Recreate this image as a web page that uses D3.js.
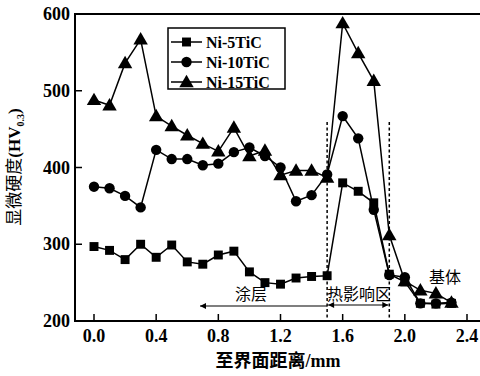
<!DOCTYPE html>
<html><head><meta charset="utf-8">
<script src="https://cdn.jsdelivr.net/npm/d3@7"></script>
<style>body{margin:0;background:#fff}svg{display:block}</style>
</head><body><svg id="c" width="480" height="376"></svg>
<script>
const xValues = [0.0,0.1,0.2,0.3,0.4,0.5,0.6,0.7,0.8,0.9,1.0,1.1,1.2,1.3,1.4,1.5,1.6,1.7,1.8,1.9,2.0,2.1,2.2,2.3];
const ni5 = [297,292,280,300,283,299,277,274,286,291,264,250,248,256,258,259,380,369,354,261,251,223,222,223];
const ni10 = [375,373,363,348,423,411,411,403,405,420,426,415,400,356,364,391,467,438,345,260,257,223,223,224];
const ni15 = [488,481,536,567,467,454,442,431,421,452,415,422,390,396,396,387,588,549,513,312,252,240,236,224];
const seriesNames = ["Ni-5TiC","Ni-10TiC","Ni-15TiC"];
const xTicks = [0.0,0.4,0.8,1.2,1.6,2.0,2.4];
const yTicks = [200,300,400,500,600];
const zoneBounds = [1.5,1.9];

const svg = d3.select("#c");
const x = d3.scaleLinear().domain([0,2.4]).range([94,467]);
const y = d3.scaleLinear().domain([200,600]).range([321,14]);
const serif = "'Liberation Serif','Times New Roman',serif";
const cjk = "'Liberation Serif','Noto Sans CJK SC',serif";
const L = 75, R = 482, T = 14, B = 321;

// frame
svg.append("path").attr("d",`M${R},${T}H${L}V${B}H${R}`).attr("fill","none").attr("stroke","#000").attr("stroke-width",2);

// ticks
const xa = svg.append("g");
xTicks.forEach(t=>{
  xa.append("line").attr("x1",x(t)).attr("x2",x(t)).attr("y1",B).attr("y2",B-7).attr("stroke","#000").attr("stroke-width",1.5);
  xa.append("text").attr("x",x(t)).attr("y",342).attr("text-anchor","middle")
    .attr("font-family",serif).attr("font-weight","bold").attr("font-size",18).text(t.toFixed(1));
});
yTicks.forEach(t=>{
  xa.append("line").attr("x1",L).attr("x2",L+7).attr("y1",y(t)).attr("y2",y(t)).attr("stroke","#000").attr("stroke-width",1.5);
  xa.append("text").attr("x",70).attr("y",y(t)+6).attr("text-anchor","end")
    .attr("font-family",serif).attr("font-weight","bold").attr("font-size",18).text(t);
});

// titles
svg.append("text").attr("x",278).attr("y",367).attr("text-anchor","middle")
  .attr("font-family",cjk).attr("font-weight","bold").attr("font-size",18).text("至界面距离/mm");
const yt = svg.append("text").attr("transform","translate(20,167) rotate(-90)").attr("text-anchor","middle")
  .attr("font-family",cjk).attr("font-size",17);
yt.append("tspan").text("显微硬度");
yt.append("tspan").attr("font-weight","bold").text("(HV");
yt.append("tspan").attr("font-weight","bold").attr("font-size",10).attr("dy",4).text("0.3");
yt.append("tspan").attr("font-weight","bold").attr("dy",-4).text(")");

// dashed zone lines
zoneBounds.forEach(b=>{
  svg.append("line").attr("x1",x(b)).attr("x2",x(b)).attr("y1",122).attr("y2",B)
    .attr("stroke","#000").attr("stroke-width",1.5).attr("stroke-dasharray","3,2.5");
});

// arrows
const defs = svg.append("defs");
defs.append("marker").attr("id","ah").attr("viewBox","0 0 10 10").attr("refX",10).attr("refY",5)
  .attr("markerWidth",10).attr("markerHeight",6).attr("markerUnits","userSpaceOnUse").attr("orient","auto-start-reverse")
  .append("path").attr("d","M0,0L10,5L0,10Z").attr("fill","#000");
svg.append("line").attr("x1",x(zoneBounds[0])).attr("x2",200).attr("y1",306).attr("y2",306)
  .attr("stroke","#000").attr("stroke-width",1.2).attr("marker-end","url(#ah)");
svg.append("line").attr("x1",x(zoneBounds[0])+1).attr("x2",x(zoneBounds[1])-1).attr("y1",305).attr("y2",305)
  .attr("stroke","#000").attr("stroke-width",1.2).attr("marker-end","url(#ah)").attr("marker-start","url(#ah)");
svg.append("text").attr("x",251).attr("y",300).attr("text-anchor","middle").attr("font-family",cjk).attr("font-size",16).text("涂层");
svg.append("text").attr("x",359).attr("y",300).attr("text-anchor","middle").attr("font-family",cjk).attr("font-size",16).text("热影响区");
svg.append("text").attr("x",445).attr("y",283).attr("text-anchor","middle").attr("font-family",cjk).attr("font-size",16).text("基体");

// series
const line = d3.line().x((d,i)=>x(xValues[i])).y(d=>y(d));
const sym = [d3.symbolSquare, d3.symbolCircle, d3.symbolTriangle];
const symSize = [80, 85, 90];
[ni5,ni10,ni15].forEach((s,k)=>{
  svg.append("path").attr("d",line(s)).attr("fill","none").attr("stroke","#000").attr("stroke-width",1.5);
  svg.append("g").selectAll("path").data(s).join("path")
    .attr("transform",(d,i)=>`translate(${x(xValues[i])},${y(d)+(k==2?1:0)})`)
    .attr("d",d3.symbol().type(sym[k]).size(symSize[k])).attr("fill","#000");
});

// legend
svg.append("rect").attr("x",168).attr("y",28).attr("width",117).attr("height",61).attr("fill","#fff").attr("stroke","#000").attr("stroke-width",1.5);
seriesNames.forEach((n,k)=>{
  const yy = 42 + k*20;
  svg.append("line").attr("x1",171).attr("x2",202).attr("y1",yy).attr("y2",yy).attr("stroke","#000").attr("stroke-width",1.5);
  svg.append("path").attr("transform",`translate(186.5,${yy+(k==2?1:0)})`).attr("d",d3.symbol().type(sym[k]).size(symSize[k])).attr("fill","#000");
  svg.append("text").attr("x",206).attr("y",yy+5.5).attr("font-family",serif).attr("font-weight","bold").attr("font-size",16).text(n);
});
</script></body></html>
